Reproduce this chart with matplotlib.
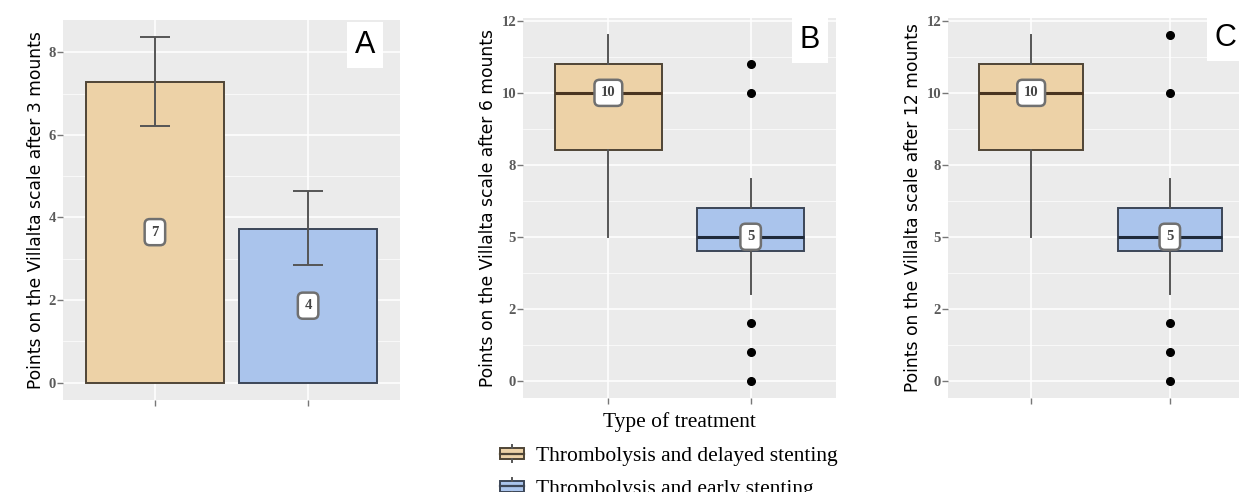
import matplotlib
matplotlib.use("Agg")
import matplotlib.pyplot as plt
import numpy as np
from matplotlib.patches import Rectangle, Patch
from matplotlib.lines import Line2D
from matplotlib.legend_handler import HandlerBase

# ---------------- data ----------------
groups = ["Thrombolysis and delayed stenting", "Thrombolysis and early stenting"]
fills = ["#EDD2A7", "#AAC4EC"]
edges = ["#4F4536", "#3C4657"]
medline = ["#4A3520", "#1F2A3A"]

# panel A: mean with error bars
bar_mean = [7.29, 3.73]
bar_lo = [6.22, 2.85]
bar_hi = [8.36, 4.63]
bar_text = ["7", "4"]
a_ticks = [0, 2, 4, 6, 8]

# panels B and C: box plot statistics
q1 = [8.0, 4.5]
med = [10.0, 5.0]
q3 = [11.0, 6.0]
whislo = [5.0, 3.0]
whishi = [12.0, 7.0]
fliers_b = [[], [11, 10, 2, 1, 0]]
fliers_c = [[], [12, 10, 2, 1, 0]]
box_text = ["10", "5"]
bc_ticks = [0, 2.5, 5, 7.5, 10, 12.5]
bc_ticklabels = ["0", "2", "5", "8", "10", "12"]

ylab_a = "Points on the Villalta scale after 3 mounts"
ylab_b = "Points on the Villalta scale after 6 mounts"
ylab_c = "Points on the Villalta scale after 12 mounts"

BG = "#EBEBEB"
W, H = 1239, 492
fig = plt.figure(figsize=(W / 100, H / 100), dpi=100)


def style(ax, ymin, ymax, ticks, labels=None):
    ax.set_facecolor(BG)
    for s in ax.spines.values():
        s.set_visible(False)
    ax.set_xlim(0.4, 2.6)
    ax.set_ylim(ymin, ymax)
    ax.set_xticks([1, 2])
    ax.set_xticklabels(["", ""])
    ax.set_yticks(ticks)
    ax.set_yticklabels(labels if labels else [str(t) for t in ticks],
                       family="Liberation Serif", fontweight="bold",
                       color="#5A5A5A", fontsize=10.5)
    ax.set_yticks([(a + b) / 2 for a, b in zip(ticks[:-1], ticks[1:])], minor=True)
    ax.tick_params(axis="both", which="major", length=4, width=1, color="#777777", pad=1)
    ax.tick_params(axis="y", which="minor", length=0)
    ax.grid(True, which="major", color="white", lw=1.1)
    ax.grid(True, which="minor", axis="y", color="white", lw=0.5)
    ax.set_axisbelow(True)


def label_box(ax, x, y, txt):
    ax.text(x, y, txt, ha="center", va="center", family="Liberation Serif",
            fontsize=10.5, fontweight="bold", color="#444444", zorder=6,
            bbox=dict(boxstyle="round,pad=0.45,rounding_size=0.35",
                      fc="white", ec="#707070", lw=1.8))


def panel_letter(ax, x, y, letter):
    ax.text(x, y, letter, transform=ax.transAxes, ha="center", va="center",
            family="Liberation Sans", fontsize=22, color="black", zorder=7,
            bbox=dict(boxstyle="square,pad=0.25", fc="white", ec="none"))


# ---------------- panel A ----------------
axA = fig.add_axes([63 / W, 1 - 400 / H, 337 / W, 380 / H])
style(axA, -0.418, 8.78, a_ticks)
xs = np.array([1, 2])
axA.bar(xs, bar_mean, width=0.9, color=fills, edgecolor=edges, linewidth=1.4, zorder=3)
for i in range(2):
    axA.errorbar(xs[i], bar_mean[i],
                 yerr=[[bar_mean[i] - bar_lo[i]], [bar_hi[i] - bar_mean[i]]],
                 fmt="none", ecolor="#555555", elinewidth=1.4, capsize=11,
                 capthick=1.4, zorder=4)
    label_box(axA, xs[i], bar_mean[i] / 2, bar_text[i])
axA.set_ylabel(ylab_a, family="DejaVu Sans", fontsize=12.3, labelpad=3)
panel_letter(axA, 0.896, 0.934, "A")


# ---------------- panels B, C ----------------
def box_panel(rect, fliers, ylab, letter, lx, ly):
    ax = fig.add_axes(rect)
    style(ax, -0.6, 12.6, bc_ticks, bc_ticklabels)
    for i in range(2):
        st = [dict(med=med[i], q1=q1[i], q3=q3[i], whislo=whislo[i],
                   whishi=whishi[i], fliers=fliers[i])]
        ax.bxp(st, positions=[i + 1], widths=0.75, patch_artist=True,
               showcaps=False,
               boxprops=dict(facecolor=fills[i], edgecolor=edges[i], lw=1.4),
               medianprops=dict(color=medline[i], lw=2.2),
               whiskerprops=dict(color="#555555", lw=1.4),
               flierprops=dict(marker="o", markerfacecolor="black",
                               markeredgecolor="black", markersize=5.5),
               zorder=3)
        label_box(ax, i + 1, med[i], box_text[i])
    ax.set_xticks([1, 2])
    ax.set_xticklabels(["", ""])
    ax.set_ylabel(ylab, family="DejaVu Sans", fontsize=12.3, labelpad=3)
    panel_letter(ax, lx, ly, letter)
    return ax


axB = box_panel([523 / W, 1 - 398 / H, 313 / W, 380 / H], fliers_b, ylab_b, "B", 0.917, 0.942)
axC = box_panel([948 / W, 1 - 398 / H, 305 / W, 380 / H], fliers_c, ylab_c, "C", 0.911, 0.947)
axB.set_xlabel("Type of treatment", family="Liberation Serif", fontsize=15.5, labelpad=5)


# ---------------- legend ----------------
class BoxHandler(HandlerBase):
    def create_artists(self, legend, orig_handle, xdescent, ydescent,
                       width, height, fontsize, trans):
        x0, y0 = -xdescent, -ydescent
        fc = orig_handle.get_facecolor()
        ec = orig_handle.get_edgecolor()
        r = Rectangle((x0, y0 + 0.2 * height), width, 0.6 * height,
                      facecolor=fc, edgecolor=ec, lw=1.4, transform=trans)
        m = Line2D([x0, x0 + width], [y0 + 0.5 * height] * 2, color=ec, lw=1.6, transform=trans)
        w1 = Line2D([x0 + width / 2] * 2, [y0, y0 + 0.2 * height], color="#555555", lw=1.4, transform=trans)
        w2 = Line2D([x0 + width / 2] * 2, [y0 + 0.8 * height, y0 + height], color="#555555", lw=1.4, transform=trans)
        return [r, m, w1, w2]


handles = [Patch(facecolor=fills[i], edgecolor=edges[i]) for i in range(2)]
leg = fig.legend(handles, groups, handler_map={Patch: BoxHandler()},
                 loc="upper left", bbox_to_anchor=(500 / W, 1 - 445 / H),
                 frameon=False, prop=dict(family="Liberation Serif", size=15.5),
                 handlelength=1.1, handleheight=0.85, handletextpad=0.55,
                 labelspacing=0.55, borderpad=0, borderaxespad=0)

fig.savefig("out.png", dpi=100)
